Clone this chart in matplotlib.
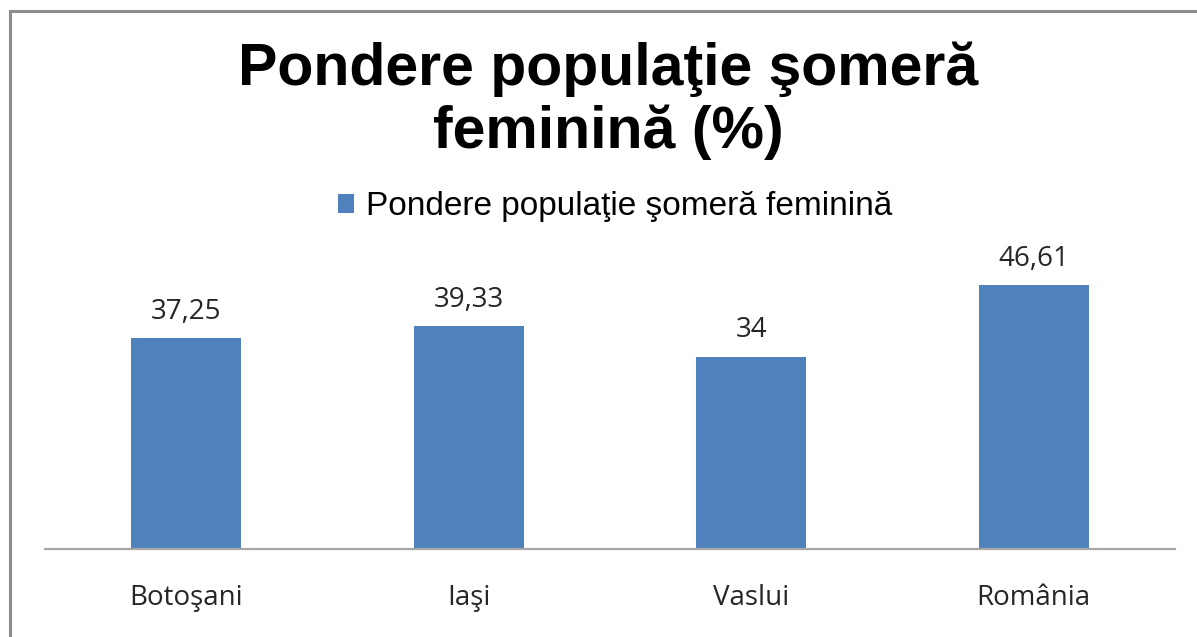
import matplotlib
matplotlib.use("Agg")
import matplotlib.pyplot as plt
from matplotlib.patches import Rectangle

categories = ["Botoşani", "Iaşi", "Vaslui", "România"]
values = [37.25, 39.33, 34, 46.61]
value_labels = ["37,25", "39,33", "34", "46,61"]
series_name = "Pondere populaţie şomeră feminină"
title_lines = ["Pondere populaţie şomeră", "feminină (%)"]

W, H = 1197, 637
fig = plt.figure(figsize = (W / 100, H / 100), dpi = 100)

# outer frame (right and bottom edges run off the picture)
fig.patches.append(Rectangle((10 / W, -0.1), 1.2, 1 - 11 / H + 0.1,
                             transform = fig.transFigure, fill = False,
                             edgecolor = "#8c8c8c", linewidth = 2.2))

ax = fig.add_axes([45 / W, 88 / H, 1130 / W, 283 / H])
x = range(len(categories))
bars = ax.bar(x, values, width = 0.39, color = "#4F81BD", label = series_name)
ax.set_xlim(-0.5, len(categories) - 0.5)
ax.set_ylim(0, 50)

for s in ["top", "left", "right"]:
    ax.spines[s].set_visible(False)
ax.spines["bottom"].set_color("#a6a6a6")
ax.spines["bottom"].set_linewidth(1.6)
ax.set_yticks([])
ax.set_xticks(list(x))
ax.set_xticklabels(categories, fontfamily = "Open Sans", fontsize = 20, color = "#262626")
ax.tick_params(axis = "x", length = 0, pad = 25)

ax.bar_label(bars, labels = value_labels, padding = 9,
             fontfamily = "Open Sans", fontsize = 20, color = "#262626")

for i, line in enumerate(title_lines):
    fig.text(608 / W, 1 - (85 + 63 * i) / H, line, ha = "center", va = "baseline",
             fontfamily = "Liberation Sans", fontweight = "bold", fontsize = 42.5)

fig.legend(handles = [bars], labels = [series_name], loc = "center",
           bbox_to_anchor = (615 / W, 1 - 207 / H), frameon = False,
           prop = {"family": "Liberation Sans", "size": 24},
           handlelength = 0.5, handleheight = 0.5, handletextpad = 0.35)

fig.savefig("out.png", dpi = 100)
